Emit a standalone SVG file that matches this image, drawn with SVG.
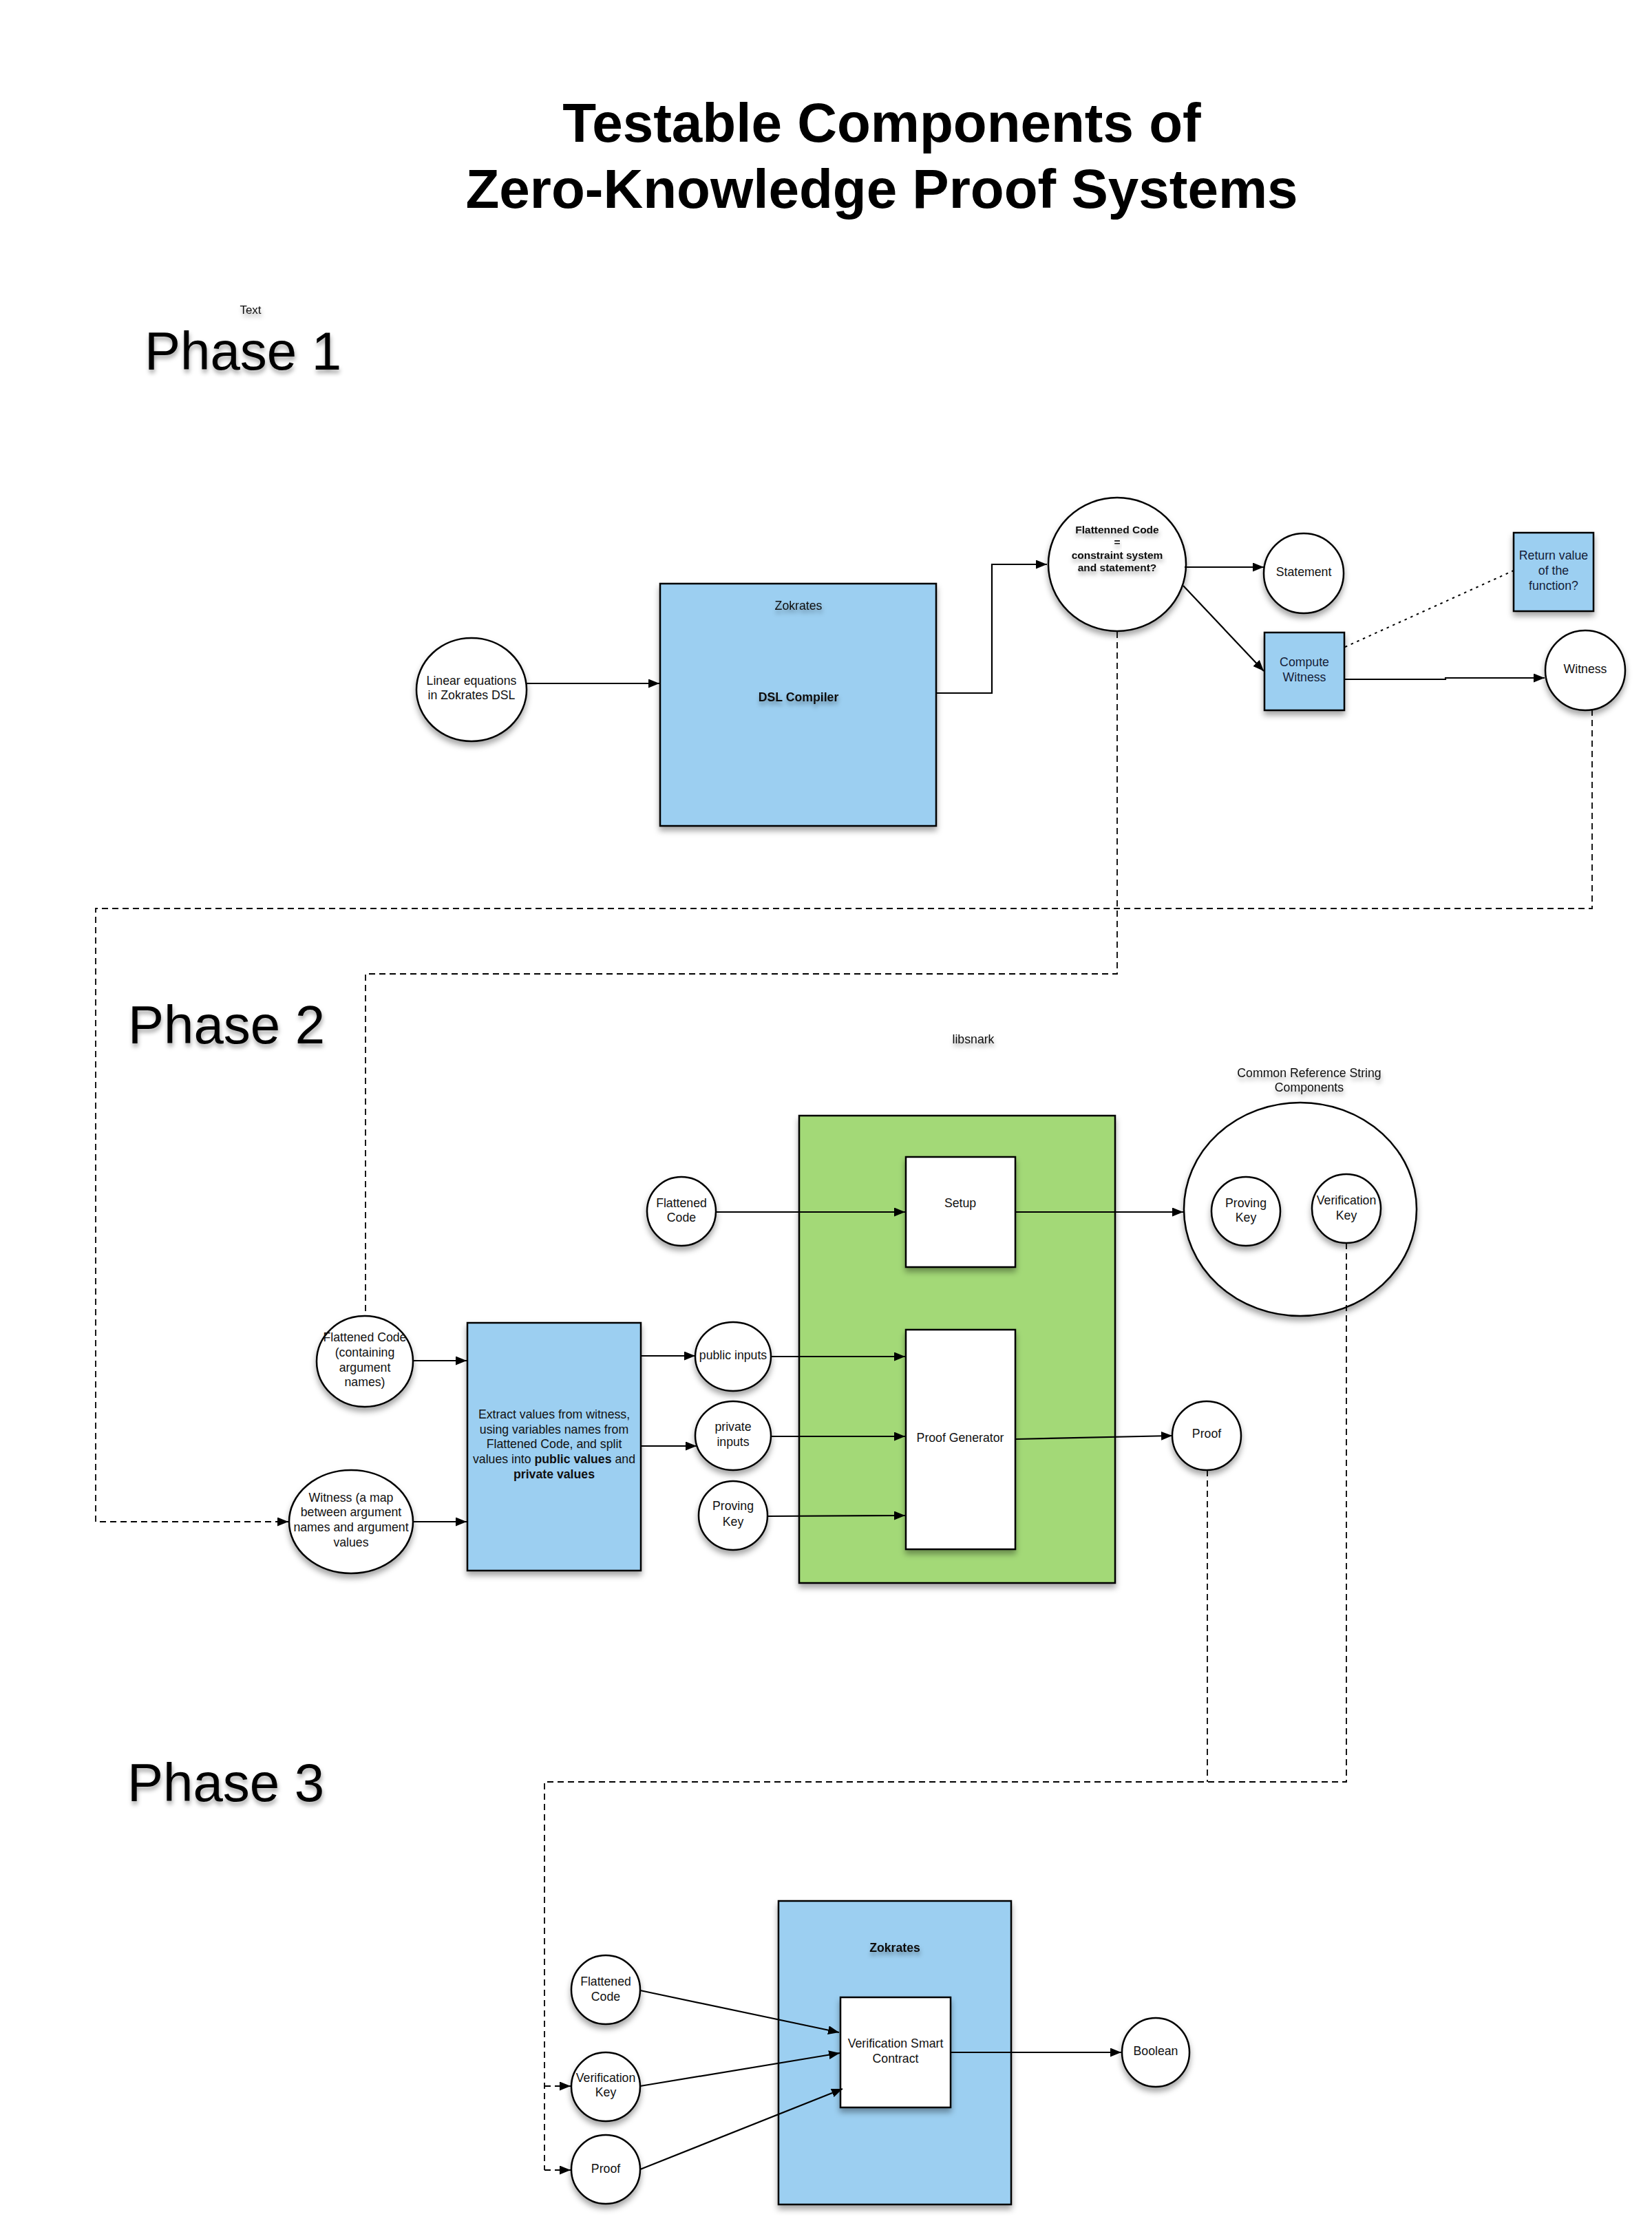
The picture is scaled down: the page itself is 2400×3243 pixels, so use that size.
<svg xmlns="http://www.w3.org/2000/svg" width="2400" height="3243" viewBox="0 0 2400 3243">
<defs>
<style>
text{font-family:"Liberation Sans",Arial,Helvetica,sans-serif;fill:#111;}
.t{font-size:17.7px;text-anchor:middle;}
.b{font-weight:bold;}
.title{font-size:80px;font-weight:bold;text-anchor:middle;fill:#000;}
.phase{font-size:78px;fill:#000;}
.node{fill:#fff;stroke:#000;stroke-width:2.5;filter:url(#sh);}
.blue{fill:#9ccff1;stroke:#000;stroke-width:2.5;filter:url(#sh);}
.green{fill:#a3d977;stroke:#000;stroke-width:2.5;filter:url(#sh);}
.box{fill:#fff;stroke:#000;stroke-width:2.5;filter:url(#sh);}
.c{fill:none;stroke:#000;stroke-width:2.2;marker-end:url(#ah);}
.d{fill:none;stroke:#000;stroke-width:1.8;stroke-dasharray:9 6;}
.da{fill:none;stroke:#000;stroke-width:1.8;stroke-dasharray:9 6;marker-end:url(#ah);}
.dot{fill:none;stroke:#000;stroke-width:2;stroke-dasharray:3.5 6;}
.ts{filter:url(#tsh);}
</style>
<filter id="sh" x="-20%" y="-20%" width="140%" height="150%">
<feDropShadow dx="0" dy="6" stdDeviation="4" flood-color="#000" flood-opacity="0.35"/>
</filter>
<filter id="tsh" x="-20%" y="-40%" width="140%" height="200%">
<feDropShadow dx="1" dy="5" stdDeviation="3" flood-color="#000" flood-opacity="0.35"/>
</filter>
<marker id="ah" markerUnits="userSpaceOnUse" markerWidth="17" markerHeight="13" refX="16" refY="6.5" orient="auto">
<path d="M0,0 L16,6.5 L0,13 z" fill="#000"/>
</marker>
</defs>
<rect width="2400" height="3243" fill="#fff"/>

<g id="title">
<text class="title" x="1281" y="206">Testable Components of</text>
<text class="title" x="1281" y="302">Zero-Knowledge Proof Systems</text>
</g>
<g id="label-text"><text class="t ts" x="364" y="456" style="font-size:17px">Text</text></g>
<g id="phase1-label"><text class="phase ts" x="210" y="537">Phase 1</text></g>
<g id="phase2-label"><text class="phase ts" x="186" y="1516">Phase 2</text></g>
<g id="phase3-label"><text class="phase ts" x="185" y="2617">Phase 3</text></g>

<!-- Phase 1 -->
<g id="linear-equations">
<ellipse class="node" cx="685" cy="1002" rx="80" ry="75"/>
<text class="t" x="685" y="995">Linear equations</text>
<text class="t" x="685" y="1016">in Zokrates DSL</text>
</g>
<g id="dsl-compiler">
<rect class="blue" x="959" y="848" width="401" height="352"/>
<text class="t ts" x="1160" y="886">Zokrates</text>
<text class="t b ts" x="1160" y="1019">DSL Compiler</text>
</g>
<g id="flattenned-code">
<ellipse class="node" cx="1623" cy="820" rx="100" ry="97"/>
<text class="t b ts" x="1623" y="775" style="font-size:15.5px">Flattenned Code</text>
<text class="t b ts" x="1623" y="793" style="font-size:15.5px">=</text>
<text class="t b ts" x="1623" y="812" style="font-size:15.5px">constraint system</text>
<text class="t b ts" x="1623" y="830" style="font-size:15.5px">and statement?</text>
</g>
<g id="statement">
<ellipse class="node" cx="1894" cy="833" rx="58" ry="58"/>
<text class="t" x="1894" y="837">Statement</text>
</g>
<g id="compute-witness">
<rect class="blue" x="1837" y="919" width="116" height="113"/>
<text class="t" x="1895" y="968" style="fill:#142038">Compute</text>
<text class="t" x="1895" y="990" style="fill:#142038">Witness</text>
</g>
<g id="return-value">
<rect class="blue" x="2199" y="774" width="116" height="114"/>
<text class="t" x="2257" y="813" style="fill:#142038">Return value</text>
<text class="t" x="2257" y="835" style="fill:#142038">of the</text>
<text class="t" x="2257" y="857" style="fill:#142038">function?</text>
</g>
<g id="witness">
<ellipse class="node" cx="2303" cy="974" rx="58" ry="58"/>
<text class="t" x="2303" y="978">Witness</text>
</g>

<!-- Phase 2 -->
<g id="libsnark-label"><text class="t ts" x="1414" y="1516">libsnark</text></g>
<g id="crs-label">
<text class="t ts" x="1902" y="1565">Common Reference String</text>
<text class="t ts" x="1902" y="1586">Components</text>
</g>
<g id="libsnark">
<rect class="green" x="1161" y="1621" width="459" height="679"/>
</g>
<g id="flattened-code-p2">
<ellipse class="node" cx="990" cy="1760" rx="50" ry="50"/>
<text class="t" x="990" y="1754">Flattened</text>
<text class="t" x="990" y="1775">Code</text>
</g>
<g id="setup">
<rect class="box" x="1316" y="1681" width="159" height="160"/>
<text class="t" x="1395" y="1754">Setup</text>
</g>
<g id="crs">
<ellipse class="node" cx="1889" cy="1757" rx="169" ry="155"/>
</g>
<g id="proving-key-crs">
<ellipse class="node" cx="1810" cy="1760" rx="50" ry="50"/>
<text class="t" x="1810" y="1754">Proving</text>
<text class="t" x="1810" y="1775">Key</text>
</g>
<g id="verification-key-crs">
<ellipse class="node" cx="1956" cy="1756" rx="50" ry="50"/>
<text class="t" x="1956" y="1750">Verification</text>
<text class="t" x="1956" y="1772">Key</text>
</g>
<g id="flattened-code-args">
<ellipse class="node" cx="530" cy="1978" rx="70" ry="66"/>
<text class="t" x="530" y="1949">Flattened Code</text>
<text class="t" x="530" y="1971">(containing</text>
<text class="t" x="530" y="1993">argument</text>
<text class="t" x="530" y="2014">names)</text>
</g>
<g id="witness-map">
<ellipse class="node" cx="510" cy="2211" rx="90" ry="75"/>
<text class="t" x="510" y="2182">Witness (a map</text>
<text class="t" x="510" y="2203">between argument</text>
<text class="t" x="510" y="2225">names and argument</text>
<text class="t" x="510" y="2247">values</text>
</g>
<g id="extract-values">
<rect class="blue" x="679" y="1922" width="252" height="360"/>
<text class="t" x="805" y="2061">Extract values from witness,</text>
<text class="t" x="805" y="2083">using variables names from</text>
<text class="t" x="805" y="2104">Flattened Code, and split</text>
<text class="t" x="805" y="2126">values into <tspan class="b">public values</tspan> and</text>
<text class="t b" x="805" y="2148">private values</text>
</g>
<g id="public-inputs">
<ellipse class="node" cx="1065" cy="1971" rx="55" ry="50"/>
<text class="t" x="1065" y="1975">public inputs</text>
</g>
<g id="private-inputs">
<ellipse class="node" cx="1065" cy="2086" rx="55" ry="50"/>
<text class="t" x="1065" y="2079">private</text>
<text class="t" x="1065" y="2101">inputs</text>
</g>
<g id="proving-key">
<ellipse class="node" cx="1065" cy="2202" rx="50" ry="50"/>
<text class="t" x="1065" y="2194">Proving</text>
<text class="t" x="1065" y="2217">Key</text>
</g>
<g id="proof-generator">
<rect class="box" x="1316" y="1932" width="159" height="319"/>
<text class="t" x="1395" y="2095">Proof Generator</text>
</g>
<g id="proof-p2">
<ellipse class="node" cx="1753" cy="2086" rx="50" ry="50"/>
<text class="t" x="1753" y="2089">Proof</text>
</g>

<!-- Phase 3 -->
<g id="zokrates-verifier">
<rect class="blue" x="1131" y="2762" width="338" height="441"/>
<text class="t b ts" x="1300" y="2836">Zokrates</text>
</g>
<g id="verification-smart-contract">
<rect class="box" x="1221" y="2902" width="160" height="160"/>
<text class="t" x="1301" y="2975">Verification Smart</text>
<text class="t" x="1301" y="2997">Contract</text>
</g>
<g id="flattened-code-p3">
<ellipse class="node" cx="880" cy="2891" rx="50" ry="50"/>
<text class="t" x="880" y="2885">Flattened</text>
<text class="t" x="880" y="2907">Code</text>
</g>
<g id="verification-key-p3">
<ellipse class="node" cx="880" cy="3032" rx="50" ry="50"/>
<text class="t" x="880" y="3025">Verification</text>
<text class="t" x="880" y="3046">Key</text>
</g>
<g id="proof-p3">
<ellipse class="node" cx="880" cy="3152" rx="50" ry="50"/>
<text class="t" x="880" y="3157">Proof</text>
</g>
<g id="boolean">
<ellipse class="node" cx="1679" cy="2982" rx="49" ry="50"/>
<text class="t" x="1679" y="2986">Boolean</text>
</g>

<g id="connectors">
<!-- Phase 1 -->
<path class="c" d="M765 993 H958"/>
<path class="c" d="M1360 1007 H1441 V820 H1521"/>
<path class="c" d="M1721 824 H1836"/>
<path class="c" d="M1719 851 L1836 975"/>
<path class="dot" d="M1954 940 L2199 829"/>
<path class="c" d="M1953 987 H2100 V985 H2244"/>
<path class="d" d="M1623 918 V1415 H531 V1912"/>
<path class="da" d="M2313 1031 V1320 H139 V2211 H419"/>
<!-- Phase 2 -->
<path class="c" d="M1040 1761 H1315"/>
<path class="c" d="M1475 1761 H1719"/>
<path class="c" d="M601 1977 H678"/>
<path class="c" d="M600 2211 H678"/>
<path class="c" d="M931 1970 H1010"/>
<path class="c" d="M931 2101 H1012"/>
<path class="c" d="M1120 1971 H1315"/>
<path class="c" d="M1120 2087 H1315"/>
<path class="c" d="M1115 2203 L1315 2202"/>
<path class="c" d="M1475 2091 L1703 2086"/>
<path class="d" d="M1754 2136 V2589"/>
<path class="d" d="M1956 1806 V2589 H791 V3153"/>
<!-- Phase 3 -->
<path class="da" d="M791 3153 H829"/>
<path class="da" d="M791 3031 H829"/>
<path class="c" d="M930 2892 L1219 2953"/>
<path class="c" d="M930 3031 L1220 2983"/>
<path class="c" d="M930 3152 L1224 3035"/>
<path class="c" d="M1381 2982 H1629"/>
</g>
</svg>
